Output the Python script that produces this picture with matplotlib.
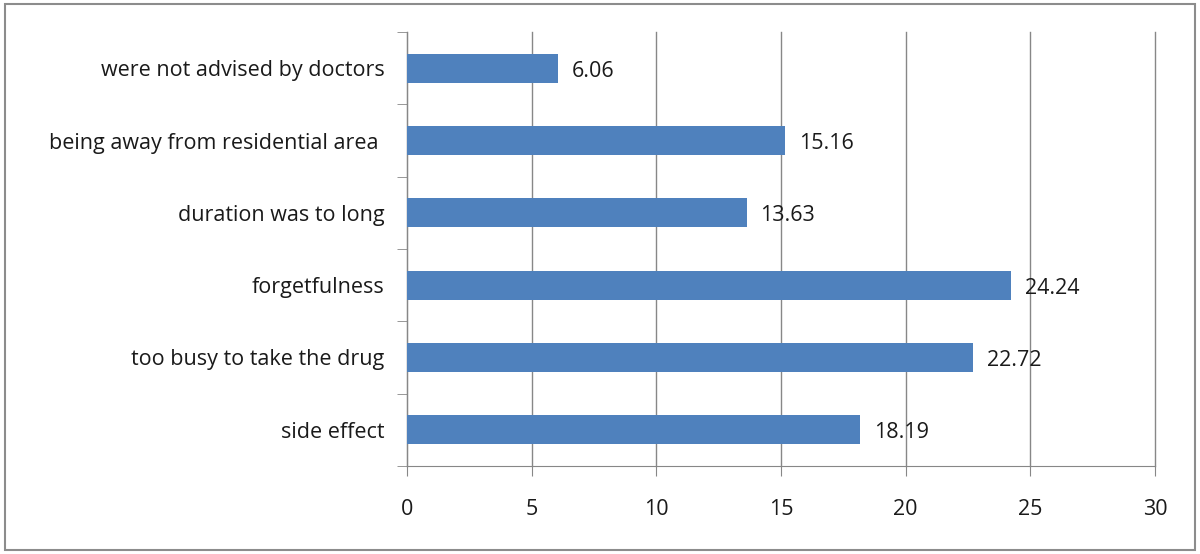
import matplotlib
matplotlib.use('Agg')
import matplotlib.pyplot as plt
from matplotlib.patches import Rectangle
from matplotlib.ticker import FixedLocator, NullFormatter

# reasons, bottom to top as drawn
reasons = ['side effect', 'too busy to take the drug', 'forgetfulness',
           'duration was to long', 'being away from residential area ',
           'were not advised by doctors']
percent = [18.19, 22.72, 24.24, 13.63, 15.16, 6.06]
x_ticks = [0, 5, 10, 15, 20, 25, 30]

plt.rcParams['font.family'] = ['Open Sans', 'DejaVu Sans']
FS = 15.5

fig = plt.figure(figsize=(12, 5.54), dpi=100)
ax = fig.add_axes([0.339, 0.159, 0.6235, 0.783])

ypos = list(range(len(reasons)))
ax.barh(ypos, percent, height=0.4, color='#4F81BD', zorder=3)
for y, v in zip(ypos, percent):
	ax.text(v + 0.55, y - 0.04, f'{v:.2f}', va='center', ha='left', fontsize=FS, color='#1a1a1a', zorder=4)

ax.set_xlim(0, 30)
ax.set_ylim(-0.5, len(reasons) - 0.5)
ax.set_xticks(x_ticks)
ax.set_xticklabels([str(t) for t in x_ticks], fontsize=FS, color='#1a1a1a')
ax.set_yticks(ypos)
ax.set_yticklabels(reasons, fontsize=FS, color='#1a1a1a')
ax.tick_params(axis='y', which='major', length=0, pad=16)
ax.yaxis.set_minor_locator(FixedLocator([i - 0.5 for i in range(len(reasons) + 1)]))
ax.yaxis.set_minor_formatter(NullFormatter())
ax.tick_params(axis='y', which='minor', length=7, color='#878787')
ax.tick_params(axis='x', length=7, color='#878787', pad=17)

ax.grid(axis='x', color='#878787', linewidth=1, zorder=0)
for gl in ax.xaxis.get_gridlines():
	gl.set_clip_on(False)
for s in ('top', 'right'):
	ax.spines[s].set_visible(False)
for s in ('left', 'bottom'):
	ax.spines[s].set_color('#878787')

# outer chart border
fig.patches.append(Rectangle((5 / 1200, 4 / 554), 1190 / 1200, 546 / 554,
	transform=fig.transFigure, fill=False, edgecolor='#8c8c8c', linewidth=1.5))

fig.savefig('out.png', dpi=100)
